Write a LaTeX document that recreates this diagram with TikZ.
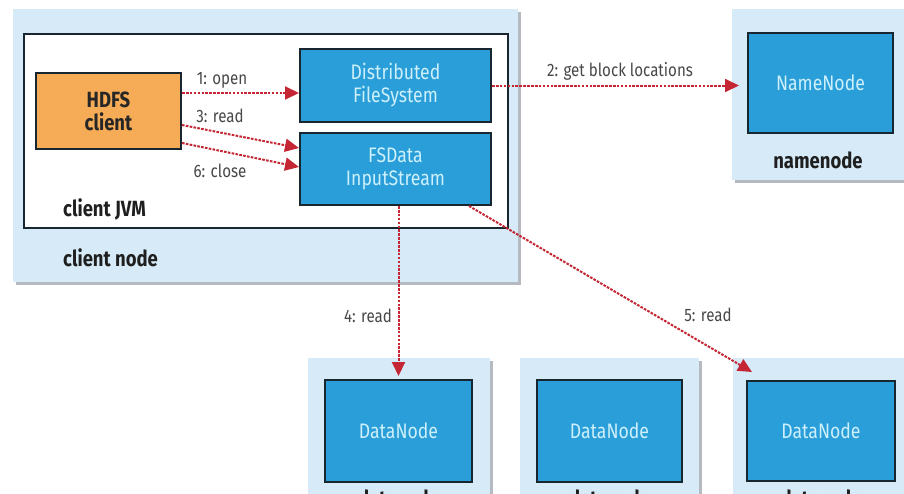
\documentclass[tikz,border=0pt]{standalone}
\usepackage{fontspec}
\setmainfont{Fira Sans}[FakeStretch=0.84]
\usetikzlibrary{arrows.meta,shadows}

\definecolor{hostbg}{RGB}{214,235,247}
\definecolor{procblue}{RGB}{42,158,216}
\definecolor{edgedark}{RGB}{24,38,48}
\definecolor{clientorange}{RGB}{246,172,86}
\definecolor{callred}{RGB}{196,38,52}
\definecolor{proctext}{RGB}{205,240,252}
\definecolor{labelgray}{RGB}{72,72,72}
\definecolor{shadowgray}{RGB}{120,130,140}

\tikzset{
  hostbox/.style={fill=hostbg, draw=none, inner sep=0pt,
    drop shadow={shadow xshift=3pt, shadow yshift=-3pt, fill=shadowgray, opacity=0.55}},
  jvmbox/.style={fill=white, draw=edgedark, line width=2pt, inner sep=0pt},
  procbox/.style={fill=procblue, draw=edgedark, line width=2pt, inner sep=0pt,
    text=proctext, align=center, font=\fontsize{21}{23}\selectfont},
  clientbox/.style={fill=clientorange, draw=edgedark, line width=2pt, inner sep=0pt,
    text=black!85, align=center, font=\bfseries\fontsize{22}{23}\selectfont},
  hostlabel/.style={text=black!88, font=\bfseries\fontsize{22}{24}\selectfont, inner sep=0pt},
  calllabel/.style={text=labelgray, font=\fontsize{18}{20}\selectfont, inner sep=0pt},
  call/.style={draw=callred, line width=2pt, dash pattern=on 2.6pt off 1.3pt,
    -{Triangle[length=14pt,width=13pt]}},
}

\begin{document}
\begin{tikzpicture}[x=1pt,y=-1pt]
\useasboundingbox (0,0) rectangle (904,493);
\clip (0,0) rectangle (904,493);
\fill[white] (0,0) rectangle (904,493);

% client node with its JVM
\node[hostbox, minimum width=505pt, minimum height=273pt] (clientnode) at (265.5,145.5) {};
\node[jvmbox, minimum width=484pt, minimum height=194pt] (jvm) at (266,131) {};
\node[clientbox, minimum width=145pt, minimum height=76pt] (hdfs) at (108.5,111) {HDFS\\client};
\node[procbox, minimum width=191pt, minimum height=73pt] (dfs) at (395.5,85.5) {Distributed\\FileSystem};
\node[procbox, minimum width=191pt, minimum height=72pt] (fsd) at (395.5,169) {FSData\\InputStream};
\node[hostlabel, anchor=west] (jvmlabel) at (63,209) {client JVM};
\node[hostlabel, anchor=west] (clientlabel) at (63,258) {client node};

% namenode host
\node[hostbox, minimum width=178pt, minimum height=171pt] (nnhost) at (821,94.5) {};
\node[procbox, minimum width=145pt, minimum height=100pt] (nn) at (820.5,83) {NameNode};
\node[hostlabel] (nnlabel) at (818,160) {namenode};

% datanode hosts
\node[hostbox, minimum width=182pt, minimum height=152pt] (dnhost1) at (399,434) {};
\node[hostbox, minimum width=179pt, minimum height=152pt] (dnhost2) at (609.5,434) {};
\node[hostbox, minimum width=182pt, minimum height=152pt] (dnhost3) at (824,434) {};
\node[procbox, minimum width=147pt, minimum height=102pt] (dn1) at (398.5,431) {DataNode};
\node[procbox, minimum width=145pt, minimum height=102pt] (dn2) at (609.5,431) {DataNode};
\node[procbox, minimum width=148pt, minimum height=100pt] (dn3) at (821,431) {DataNode};
\node[hostlabel, anchor=north] (dnlabel1) at (398.5,490) {datanode};
\node[hostlabel, anchor=north] (dnlabel2) at (609.5,490) {datanode};
\node[hostlabel, anchor=north] (dnlabel3) at (821,490) {datanode};

% calls
\coordinate (open0) at ([yshift=18pt]hdfs.east);
\draw[call] (open0) -- (open0 -| dfs.west);
\draw[call] ([yshift=-14pt]hdfs.east) -- ([yshift=21pt]fsd.west);
\draw[call] ([yshift=-32pt]hdfs.east) -- ([yshift=2pt]fsd.west);
\draw[call, shorten >=8pt] (dfs.east) -- (dfs.east -| nn.west);
\draw[call, shorten >=3pt] (fsd.south -| dn1.north) -- (dn1.north);
\draw[call] ([xshift=-23pt]fsd.south east) -- ([shift={(6pt,8pt)}]dn3.north west);

\node[calllabel] (l1) at (222,80) {1: open};
\node[calllabel] (l3) at (220,116) {3: read};
\node[calllabel] (l6) at (220,171) {6: close};
\node[calllabel] (l2) at (620,71) {2: get block locations};
\node[calllabel] (l4) at (368,316) {4: read};
\node[calllabel] (l5) at (708,315) {5: read};
\end{tikzpicture}
\end{document}
